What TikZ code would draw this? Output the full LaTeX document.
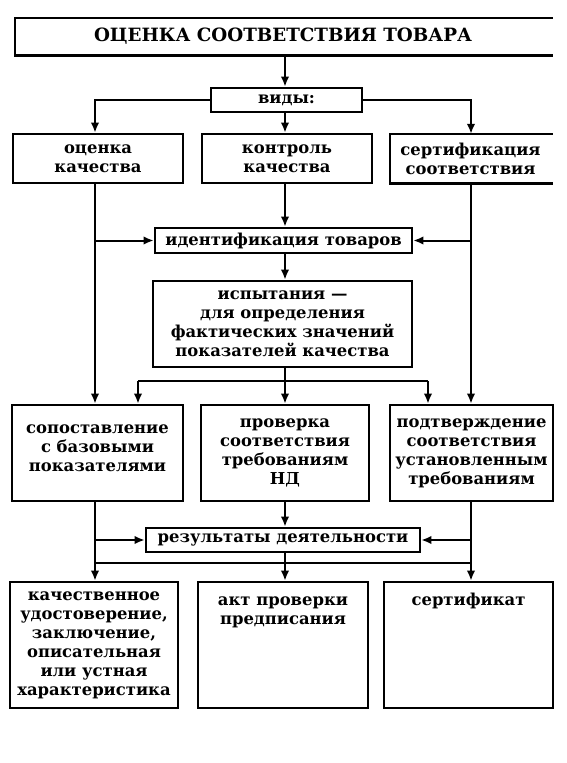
\documentclass[tikz,border=0pt]{standalone}
\usepackage{fontspec}
\setmainfont{DejaVu Serif}
\usetikzlibrary{arrows.meta,calc}
\begin{document}
\begin{tikzpicture}[x=1pt,y=-1pt,
  boxline/.style={line width=2.6pt,line cap=rect},
  boxtext/.style={inner sep=0pt,align=center,font=\bfseries\fontsize{16.4}{19}\selectfont},
  box/.style={boxtext,draw,boxline},
  conn/.style={line width=2pt},
  arr/.style={conn,-{Latex[length=10pt,width=8.5pt]}}]
\useasboundingbox (0,0) rectangle (567,763);
% column coordinates
\coordinate (L) at (95,0);
\coordinate (M) at (285,0);
\coordinate (R) at (471,0);
\coordinate (D1) at (138,381);
\coordinate (D2) at (428,381);
\coordinate (H) at (0,563);
% title (right edge not printed)
\node[boxtext,font=\bfseries\fontsize{18.3}{22}\selectfont,minimum width=536pt,minimum height=37pt] (title) at (283,36.5) {ОЦЕНКА СООТВЕТСТВИЯ ТОВАРА};
\draw[boxline] (title.north east) -| (title.south west) -- (title.south east);
\node[box,minimum width=151pt,minimum height=24pt] (vidy) at (286.5,100) {виды:};
% row 2
\node[box,minimum width=170pt,minimum height=49pt] (ocenka) at (98,158.5) {оценка\\качества};
\node[box,minimum width=170pt,minimum height=49pt] (kontrol) at (287,158.5) {контроль\\качества};
\node[boxtext,minimum width=161pt,minimum height=49pt] (sert) at (470.5,158.5) {сертификация\\соответствия};
\draw[boxline] (sert.north east) -| (sert.south west) -- (sert.south east);
% middle
\node[box,minimum width=257pt,minimum height=25pt] (ident) at (283.5,240.5) {идентификация товаров};
\node[box,minimum width=259pt,minimum height=86pt] (ispyt) at (282.5,324) {испытания —\\для определения\\фактических значений\\показателей качества};
% row 4
\node[box] (sopost) at (97.5,453) {\begin{minipage}[c][96pt][t]{171pt}\centering\rule{0pt}{28pt}сопоставление\\с базовыми\\показателями\end{minipage}};
\node[box,minimum width=168pt,minimum height=96pt] (proverka) at (285,453) {проверка\\соответствия\\требованиям\\НД};
\node[box,minimum width=163pt,minimum height=96pt] (podtv) at (471.5,453) {подтверждение\\соответствия\\установленным\\требованиям};
\node[box,minimum width=274pt,minimum height=24pt] (rezult) at (283,540) {результаты деятельности};
% bottom row
\node[box,minimum width=168pt,minimum height=126pt] (kach) at (94,645) {качественное\\удостоверение,\\заключение,\\описательная\\или устная\\характеристика};
\node[box] (akt) at (283,645) {\begin{minipage}[c][126pt][t]{170pt}\centering\rule{0pt}{23pt}акт проверки\\предписания\end{minipage}};
\node[box] (sertifikat) at (468.5,645) {\begin{minipage}[c][126pt][t]{169pt}\centering\rule{0pt}{23pt}сертификат\end{minipage}};
% connectors
\draw[arr] (title.south -| M) -- (M |- vidy.north);
\draw[arr] (vidy.west) -| (L |- ocenka.north);
\draw[arr] (vidy.east) -| (R |- sert.north);
\draw[arr] (M |- vidy.south) -- (M |- kontrol.north);
\draw[arr] (M |- kontrol.south) -- (M |- ident.north);
\draw[arr] (L |- ocenka.south) -- (L |- sopost.north);
\draw[arr] (R |- sert.south) -- (R |- podtv.north);
\draw[arr] (ident.west -| L) -- (ident.west);
\draw[arr] (ident.east -| R) -- (ident.east);
\draw[arr] (M |- ident.south) -- (M |- ispyt.north);
\draw[arr] (M |- ispyt.south) -- (M |- proverka.north);
\draw[conn] (D1) -- (D2);
\draw[arr] (D1) -- (D1 |- sopost.north);
\draw[arr] (D2) -- (D2 |- podtv.north);
\draw[arr] (L |- sopost.south) -- (L |- kach.north);
\draw[arr] (R |- podtv.south) -- (R |- sertifikat.north);
\draw[arr] (rezult.west -| L) -- (rezult.west);
\draw[arr] (rezult.east -| R) -- (rezult.east);
\draw[arr] (M |- proverka.south) -- (M |- rezult.north);
\draw[arr] (M |- rezult.south) -- (M |- akt.north);
\draw[conn] (L |- H) -- (R |- H);
\end{tikzpicture}
\end{document}
